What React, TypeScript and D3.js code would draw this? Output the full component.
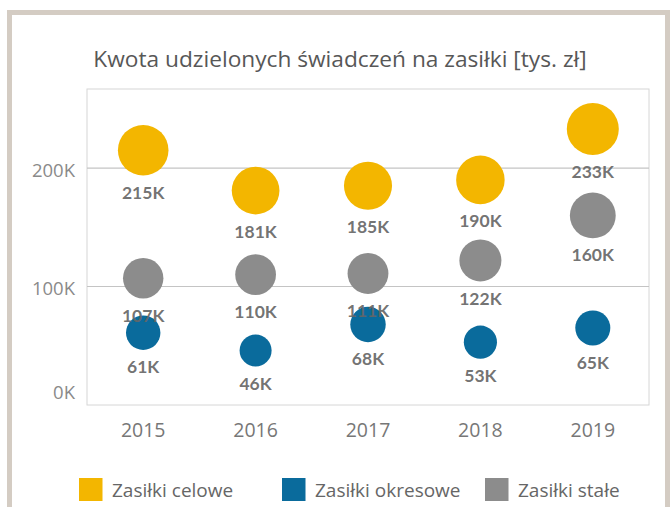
import React from "react";
import * as d3 from "d3";

const years = ["2015", "2016", "2017", "2018", "2019"];
const seriesNames = ["Zasiłki celowe", "Zasiłki okresowe", "Zasiłki stałe"];
const celowe = [215, 181, 185, 190, 233];
const okresowe = [61, 46, 68, 53, 65];
const stale = [107, 110, 111, 122, 160];
const yTicks = [0, 100, 200];
const colors = ["#f3b600", "#0a6b9c", "#8c8c8c"];

const W = 670;
const H = 507;
const plot = { left: 87, right: 649, top: 89, bottom: 405 };

const App = () => {
  const x = d3.scaleBand().domain(years).range([plot.left, plot.right]);
  const y = d3.scaleLinear().domain([0, 266.7]).range([plot.bottom, plot.top]);
  const r = d3.scaleSqrt().domain([0, 233]).range([8, 26]);

  const series = [celowe, okresowe, stale];
  const cx = (i) => x(years[i]) + x.bandwidth() / 2;

  const font = "'Open Sans', Lato, sans-serif";
  const boldFont = "Lato, 'Open Sans', sans-serif";

  return (
    <svg width={W} height={H} style={{ position: "fixed", left: 0, top: 0 }} fontFamily={font}>
      <rect x={0} y={0} width={W} height={H} fill="#fff" />
      {/* frame */}
      <rect x={9.5} y={12.5} width={658} height={H + 20} fill="none" stroke="#d4ccc3" strokeWidth={5} />

      <text x={340} y={67} textAnchor="middle" fontSize={22.7} fill="#575757">
        Kwota udzielonych świadczeń na zasiłki [tys. zł]
      </text>

      {/* plot box */}
      <rect x={plot.left} y={plot.top} width={plot.right - plot.left} height={plot.bottom - plot.top}
        fill="none" stroke="#d6d6d6" strokeWidth={1} />
      {yTicks.filter((t) => t > 0).map((t) => (
        <line key={t} x1={plot.left} x2={plot.right} y1={y(t)} y2={y(t)} stroke="#c4c4c4" strokeWidth={1.2} />
      ))}
      {yTicks.map((t) => (
        <text key={t} x={75} y={t === 0 ? y(t) - 12 : y(t) + 2} dy="0.35em" textAnchor="end" fontSize={18.5} fill="#8a8a8a">
          {t}K
        </text>
      ))}
      {years.map((yr) => (
        <text key={yr} x={x(yr) + x.bandwidth() / 2} y={430} dy="0.35em" textAnchor="middle" fontSize={19.5} fill="#777">
          {yr}
        </text>
      ))}

      {series.map((vals, s) =>
        vals.map((v, i) => (
          <circle key={s + "-" + i} cx={cx(i)} cy={y(v)} r={r(v)} fill={colors[s]} />
        ))
      )}
      {series.map((vals, s) =>
        vals.map((v, i) => (
          <text key={"l" + s + "-" + i} x={cx(i)} y={y(v) + r(v) + 17} dy="0.35em" textAnchor="middle"
            fontFamily={boldFont} fontSize={17.5} fontWeight="bold" fill="#666" fillOpacity={0.92}>
            {v}K
          </text>
        ))
      )}

      {/* legend */}
      {seriesNames.map((name, s) => {
        const lx = [79, 282, 485][s];
        return (
          <g key={name} transform={`translate(${lx},478)`}>
            <rect x={0} y={0} width={23.5} height={23} fill={colors[s]} />
            <text x={33} y={12.5} dy="0.35em" fontSize={19} fill="#666">
              {name}
            </text>
          </g>
        );
      })}
    </svg>
  );
};

export default App;
